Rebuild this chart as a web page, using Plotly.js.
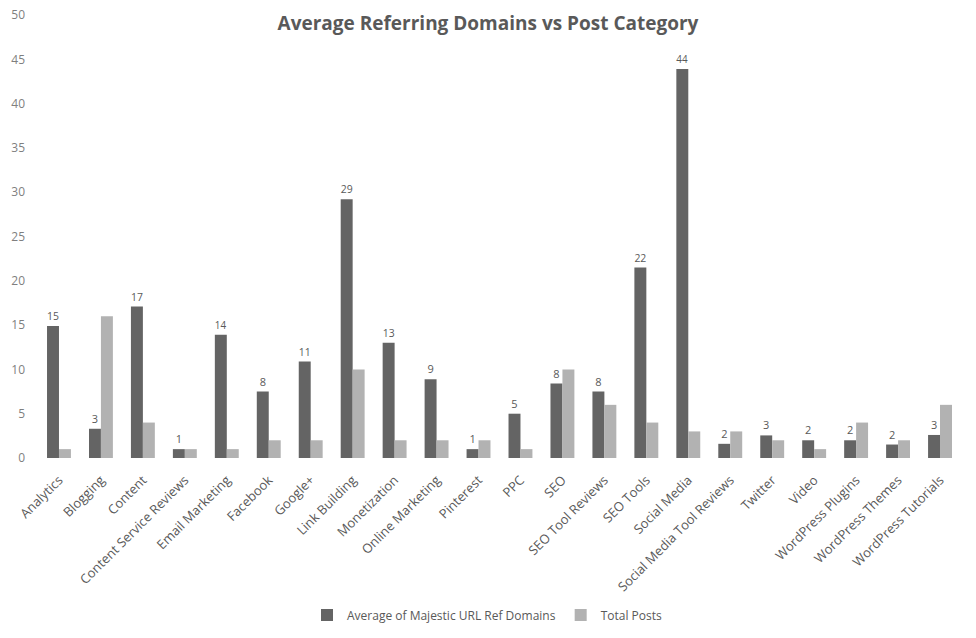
<!DOCTYPE html>
<html>
<head>
<meta charset="utf-8">
<script src="https://cdn.plot.ly/plotly-3.0.1.min.js"></script>
<style>html,body{margin:0;padding:0;background:#fff;}#chart{width:976px;height:638px;}</style>
</head>
<body>
<div id="chart"></div>
<script>
const categories = ["Analytics","Blogging","Content","Content Service Reviews","Email Marketing","Facebook","Google+","Link Building","Monetization","Online Marketing","Pinterest","PPC","SEO","SEO Tool Reviews","SEO Tools","Social Media","Social Media Tool Reviews","Twitter","Video","WordPress Plugins","WordPress Themes","WordPress Tutorials"];
const avgRefDomains = [14.9,3.3,17.1,1,13.9,7.5,10.9,29.2,13.0,8.9,1,5,8.4,7.5,21.5,43.9,1.6,2.55,2,2,1.52,2.6];
const totalPosts = [1,16,4,1,1,2,2,10,2,2,2,1,10,6,4,3,3,2,1,4,2,6];
const seriesNames = ["Average of Majestic URL Ref Domains","Total Posts"];

const fontFam = '"Open Sans", "Noto Sans", sans-serif';
const data = [
  {type:'bar', name:seriesNames[0], x:categories, y:avgRefDomains,
   marker:{color:'#646464'}, texttemplate:'%{y:.0f}', textposition:'outside',
   textfont:{family:fontFam, size:11, color:'#595959'}, cliponaxis:false, hoverinfo:'y'},
  {type:'bar', name:seriesNames[1], x:categories, y:totalPosts,
   marker:{color:'#b2b2b2'}, hoverinfo:'y'}
];
const layout = {
  width:976, height:638,
  margin:{l:38, r:15, t:15, b:180},
  paper_bgcolor:'#fff', plot_bgcolor:'#fff',
  font:{family:fontFam, color:'#595959', size:12},
  title:{text:'<b>Average Referring Domains vs Post Category</b>', x:0.5, xanchor:'center', y:0.963, yanchor:'middle', font:{family:fontFam, size:19, color:'#595959'}},
  barmode:'group', bargap:0.43, bargroupgap:0,
  xaxis:{tickangle:-45, showgrid:false, showline:false, zeroline:false, ticks:'', ticklabelstandoff:11, tickfont:{size:13, color:'#595959'}, automargin:false},
  yaxis:{range:[0,50], dtick:5, showgrid:false, showline:false, zeroline:false, ticks:'', ticklabelstandoff:12, tickfont:{size:12, color:'#7f7f7f'}, automargin:false},
  legend:{orientation:'h', x:0.487, xanchor:'center', yref:'container', y:0.036, yanchor:'middle', font:{size:12, color:'#595959'}, itemwidth:30, traceorder:'normal'},
  showlegend:true
};
Plotly.newPlot('chart', data, layout, {displayModeBar:false, staticPlot:true});
</script>
</body>
</html>
